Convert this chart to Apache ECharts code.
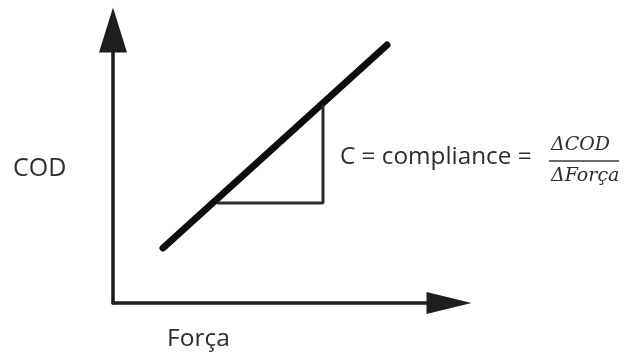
<!DOCTYPE html>
<html>
<head>
<meta charset="utf-8">
<script src="https://cdn.jsdelivr.net/npm/echarts@6/dist/echarts.min.js"></script>
<style>html,body{margin:0;padding:0;background:#fff}#c{width:625px;height:358px}</style>
</head>
<body>
<div id="c"></div>
<script>
// Main line (Força vs COD)
var lineForce = [50, 274];
var lineCOD = [55, 258];
// Slope triangle
var triForce = [104, 210, 210];
var triCOD = [100, 100, 198];
// Labels
var yLabel = 'COD';
var xLabel = 'Força';
var formulaText = 'C = compliance =';
var numText = 'ΔCOD';
var denText = 'ΔForça';

var chart = echarts.init(document.getElementById('c'), null, {renderer: 'canvas'});
var txtColor = '#2e2e2e';
chart.setOption({
  animation: false,
  backgroundColor: '#fff',
  grid: {left: 113, top: 30, right: 176, bottom: 55},
  xAxis: {
    type: 'value', min: 0, max: 336,
    axisLine: {show: true, symbol: ['none', 'triangle'], symbolSize: [22, 45], lineStyle: {color: '#1e1e1e', width: 3.5}},
    axisTick: {show: false}, axisLabel: {show: false}, splitLine: {show: false}
  },
  yAxis: {
    type: 'value', min: 0, max: 273,
    axisLine: {show: true, symbol: ['none', 'triangle'], symbolSize: [28, 45], lineStyle: {color: '#1e1e1e', width: 3.5}},
    axisTick: {show: false}, axisLabel: {show: false}, splitLine: {show: false}
  },
  series: [
    {
      type: 'line', showSymbol: false, silent: true,
      data: lineForce.map(function (f, i) { return [f, lineCOD[i]]; }),
      lineStyle: {color: '#0d0d0d', width: 7, cap: 'round'}
    },
    {
      type: 'line', showSymbol: false, silent: true,
      data: triForce.map(function (f, i) { return [f, triCOD[i]]; }),
      lineStyle: {color: '#2a2a2a', width: 3}
    }
  ],
  graphic: [
    {type: 'text', left: 13, top: 156, style: {text: yLabel, font: '25px "Open Sans"', fill: txtColor}},
    {type: 'text', left: 167, top: 327, style: {text: xLabel, font: '24.5px "Open Sans"', fill: txtColor}},
    {type: 'text', left: 340, top: 145, style: {text: formulaText, font: '24.3px "Open Sans"', fill: txtColor}},
    {type: 'text', left: 551, top: 136, style: {text: numText, font: 'italic 19px "DejaVu Serif"', fill: txtColor}},
    {type: 'line', shape: {x1: 549, y1: 161, x2: 619, y2: 161}, style: {stroke: '#3a3a3a', lineWidth: 1.6}},
    {type: 'text', left: 551, top: 167, style: {text: denText, font: 'italic 19px "DejaVu Serif"', fill: txtColor}}
  ]
});
</script>
</body>
</html>
